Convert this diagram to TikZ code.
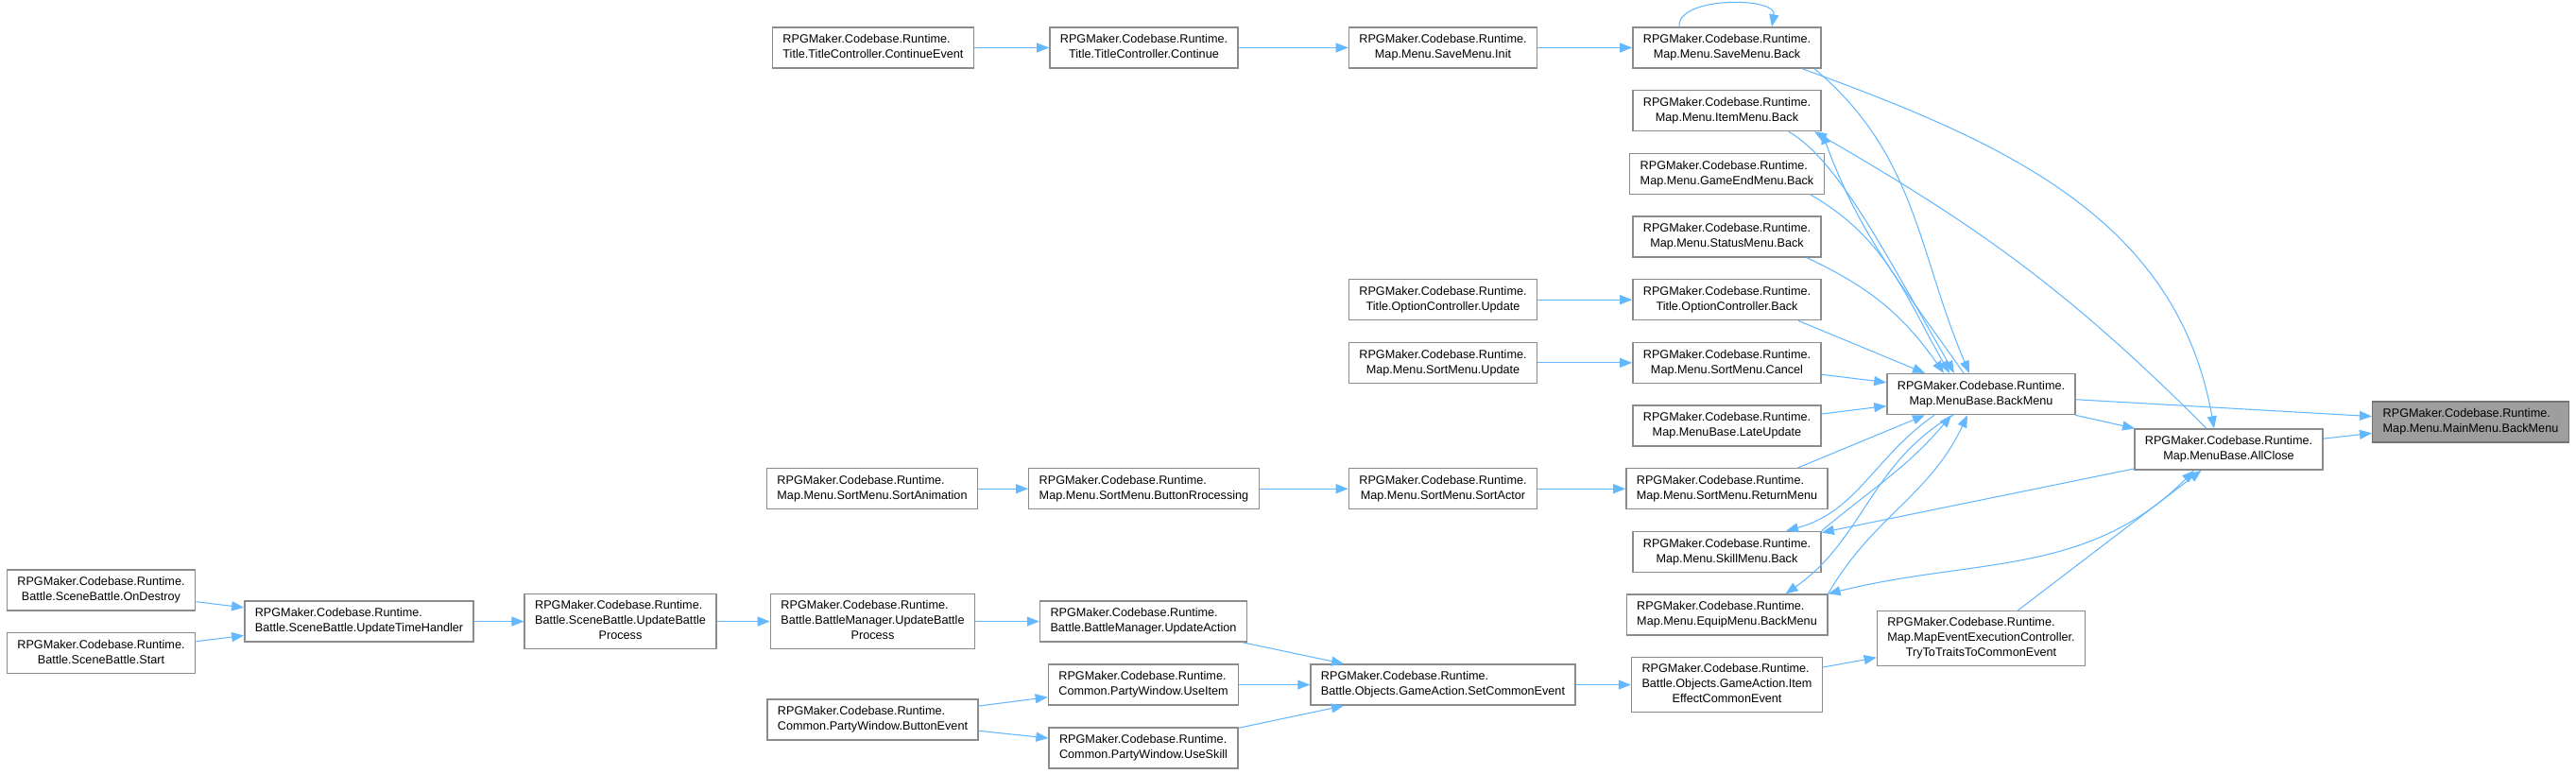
\documentclass[tikz,border=0pt]{standalone}
\usepackage{fontspec}
\setmainfont{Liberation Sans}
\usepackage{tikz}
\usetikzlibrary{arrows.meta,positioning}
\definecolor{steelblueone}{rgb}{0.39,0.72,1.00}
\definecolor{grayforty}{rgb}{0.55,0.55,0.55}
\definecolor{grayhighlight}{rgb}{0.62,0.62,0.62}
\newcommand{\dos}[2]{\begin{tabular}{@{}l@{}}#1\\\multicolumn{1}{@{}c@{}}{#2}\end{tabular}}
\newcommand{\tres}[3]{\begin{tabular}{@{}l@{}}#1\\#2\\\multicolumn{1}{@{}c@{}}{#3}\end{tabular}}
\tikzset{
  funcion/.style={
    draw=grayforty,
    fill=white,
    line width=0.8pt,
    inner xsep=0.22cm,
    inner ysep=0.1cm,
    minimum height=0.86cm,
    font=\fontsize{7.2}{9.1}\selectfont
  },
  actual/.style={
    funcion,
    draw=black!55,
    fill=grayhighlight
  },
  llamada/.style={
    -{Triangle[length=0.26cm,width=0.2cm]},
    line width=0.6pt,
    steelblueone
  },
  mutua/.style={
    {Triangle[length=0.26cm,width=0.2cm]}-{Triangle[length=0.26cm,width=0.2cm]}
  }
}
\begin{document}
\begin{tikzpicture}[node distance=1.3335cm,on grid]
\useasboundingbox (0,0) rectangle (54.52,-16.38);
\fill[white] (0,0) rectangle (54.52,-16.38);
\node[funcion] (SaveBack) at (36.55,-1.01) {\dos{RPGMaker.Codebase.Runtime.}{Map.Menu.SaveMenu.Back}};
\node[funcion,below=of SaveBack] (ItemBack) {\dos{RPGMaker.Codebase.Runtime.}{Map.Menu.ItemMenu.Back}};
\node[funcion,below=of ItemBack] (GameEndBack) {\dos{RPGMaker.Codebase.Runtime.}{Map.Menu.GameEndMenu.Back}};
\node[funcion,below=of GameEndBack] (StatusBack) {\dos{RPGMaker.Codebase.Runtime.}{Map.Menu.StatusMenu.Back}};
\node[funcion,below=of StatusBack] (OptBack) {\dos{RPGMaker.Codebase.Runtime.}{Title.OptionController.Back}};
\node[funcion,below=of OptBack] (SortCancel) {\dos{RPGMaker.Codebase.Runtime.}{Map.Menu.SortMenu.Cancel}};
\node[funcion,below=of SortCancel] (LateUpdate) {\dos{RPGMaker.Codebase.Runtime.}{Map.MenuBase.LateUpdate}};
\node[funcion,below=of LateUpdate] (ReturnMenu) {\dos{RPGMaker.Codebase.Runtime.}{Map.Menu.SortMenu.ReturnMenu}};
\node[funcion,below=of ReturnMenu] (SkillBack) {\dos{RPGMaker.Codebase.Runtime.}{Map.Menu.SkillMenu.Back}};
\node[funcion,below=of SkillBack] (EquipBack) {\dos{RPGMaker.Codebase.Runtime.}{Map.Menu.EquipMenu.BackMenu}};
\node[funcion,below=1.48cm of EquipBack] (ItemEffect) {\tres{RPGMaker.Codebase.Runtime.}{Battle.Objects.GameAction.Item}{EffectCommonEvent}};

\node[funcion,left=6.01cm of SaveBack] (SaveInit) {\dos{RPGMaker.Codebase.Runtime.}{Map.Menu.SaveMenu.Init}};
\node[funcion,left=6.01cm of OptBack] (OptUpdate) {\dos{RPGMaker.Codebase.Runtime.}{Title.OptionController.Update}};
\node[funcion,left=6.01cm of SortCancel] (SortUpdate) {\dos{RPGMaker.Codebase.Runtime.}{Map.Menu.SortMenu.Update}};
\node[funcion,left=6.01cm of ReturnMenu] (SortActor) {\dos{RPGMaker.Codebase.Runtime.}{Map.Menu.SortMenu.SortActor}};
\node[funcion,left=6.01cm of ItemEffect] (SetCommon) {\dos{RPGMaker.Codebase.Runtime.}{Battle.Objects.GameAction.SetCommonEvent}};

\node[funcion,left=6.33cm of SaveInit] (Continue) {\dos{RPGMaker.Codebase.Runtime.}{Title.TitleController.Continue}};
\node[funcion,left=6.33cm of SortActor] (ButtonProc) {\dos{RPGMaker.Codebase.Runtime.}{Map.Menu.SortMenu.ButtonRrocessing}};
\node[funcion,left=6.34cm of SetCommon] (UseItem) {\dos{RPGMaker.Codebase.Runtime.}{Common.PartyWindow.UseItem}};
\node[funcion,below=1.34cm of UseItem] (UseSkill) {\dos{RPGMaker.Codebase.Runtime.}{Common.PartyWindow.UseSkill}};
\node[funcion,above=1.34cm of UseItem] (UpdateAction) {\dos{RPGMaker.Codebase.Runtime.}{Battle.BattleManager.UpdateAction}};

\node[funcion,left=5.73cm of Continue] (ContinueEvent) {\dos{RPGMaker.Codebase.Runtime.}{Title.TitleController.ContinueEvent}};
\node[funcion,left=5.75cm of ButtonProc] (SortAnim) {\dos{RPGMaker.Codebase.Runtime.}{Map.Menu.SortMenu.SortAnimation}};
\node[funcion,left=5.73cm of UpdateAction] (BattleUBP) {\tres{RPGMaker.Codebase.Runtime.}{Battle.BattleManager.UpdateBattle}{Process}};
\node[funcion,below=2.08cm of BattleUBP] (ButtonEvent) {\dos{RPGMaker.Codebase.Runtime.}{Common.PartyWindow.ButtonEvent}};

\node[funcion,left=5.34cm of BattleUBP] (SceneUBP) {\tres{RPGMaker.Codebase.Runtime.}{Battle.SceneBattle.UpdateBattle}{Process}};
\node[funcion,left=5.53cm of SceneUBP] (TimeHandler) {\dos{RPGMaker.Codebase.Runtime.}{Battle.SceneBattle.UpdateTimeHandler}};
\node[funcion,above left=0.66cm and 5.46cm of TimeHandler] (OnDestroy) {\dos{RPGMaker.Codebase.Runtime.}{Battle.SceneBattle.OnDestroy}};
\node[funcion,below left=0.67cm and 5.46cm of TimeHandler] (Start) {\dos{RPGMaker.Codebase.Runtime.}{Battle.SceneBattle.Start}};

\node[funcion,above right=0.67cm and 5.38cm of LateUpdate] (BackMenu) {\dos{RPGMaker.Codebase.Runtime.}{Map.MenuBase.BackMenu}};
\node[funcion,below right=0.5cm and 5.38cm of EquipBack] (TryTraits) {\tres{RPGMaker.Codebase.Runtime.}{Map.MapEventExecutionController.}{TryToTraitsToCommonEvent}};
\node[funcion,below right=1.17cm and 5.24cm of BackMenu] (AllClose) {\dos{RPGMaker.Codebase.Runtime.}{Map.MenuBase.AllClose}};
\node[actual,above right=0.58cm and 5.12cm of AllClose] (MainBack) {\dos{RPGMaker.Codebase.Runtime.}{Map.Menu.MainMenu.BackMenu}};

\path[llamada]
  (ContinueEvent) edge (Continue)
  (Continue) edge (SaveInit)
  (SaveInit) edge (SaveBack)
  (OptUpdate) edge (OptBack)
  (SortUpdate) edge (SortCancel)
  (SortAnim) edge (ButtonProc)
  (ButtonProc) edge (SortActor)
  (SortActor) edge (ReturnMenu)
  (OnDestroy) edge (TimeHandler)
  (Start) edge (TimeHandler)
  (TimeHandler) edge (SceneUBP)
  (SceneUBP) edge (BattleUBP)
  (BattleUBP) edge (UpdateAction)
  (ButtonEvent) edge (UseItem)
                edge (UseSkill)
  (UpdateAction) edge (SetCommon)
  (UseItem) edge (SetCommon)
  (UseSkill) edge (SetCommon)
  (SetCommon) edge (ItemEffect)
  (ItemEffect) edge (TryTraits)
  (TryTraits) edge (AllClose)
  (SortCancel) edge (BackMenu)
  (LateUpdate) edge (BackMenu)
  (BackMenu) edge (MainBack)
             edge (AllClose)
  (AllClose) edge (MainBack)
             edge (SkillBack);

\path[llamada]
  ([xshift=-1.01cm]SaveBack.north) edge[out=95,in=80,looseness=0.85] ([xshift=0.95cm]SaveBack.north)
  ([xshift=1.85cm]SaveBack.south) edge[out=-40,in=113] ([xshift=-0.25cm]BackMenu.north)
  ([xshift=1.59cm]SaveBack.south) edge[out=-20,in=100] ([xshift=-0.31cm]AllClose.north)
  ([xshift=1.31cm]ItemBack.south) edge[out=-30,in=120,out looseness=0.5,in looseness=1.2] ([xshift=-0.57cm]BackMenu.north)
  ([xshift=-0.37cm]BackMenu.north) edge[out=125,in=-70] (ItemBack.south east)
  ([xshift=-0.47cm]AllClose.north) edge[out=135,in=-30] ([xshift=1.85cm]ItemBack.south)
  ([xshift=1.77cm]GameEndBack.south) edge[out=-30,in=120] ([xshift=-0.67cm]BackMenu.north)
  ([xshift=1.69cm]StatusBack.south) edge[out=-25,in=125] ([xshift=-0.79cm]BackMenu.north)
  ([xshift=1.51cm]OptBack.south) edge ([xshift=-1.19cm]BackMenu.north)
  ([xshift=1.5cm]ReturnMenu.north) edge ([xshift=-1.19cm]BackMenu.south)
  ([xshift=-0.99cm]BackMenu.south) edge[out=-145,in=15] ([xshift=1.25cm]SkillBack.north)
  (SkillBack.north east) edge[out=40,in=-130] ([xshift=-0.63cm]BackMenu.south)
  ([xshift=-0.59cm]BackMenu.south) edge[out=-150,in=35] ([xshift=1.24cm]EquipBack.north)
  (EquipBack.north east) edge[out=60,in=-115] ([xshift=-0.29cm]BackMenu.south)
  ([xshift=-0.73cm]AllClose.south) edge[mutua,out=-135,in=14] (EquipBack.north east);
\end{tikzpicture}
\end{document}
